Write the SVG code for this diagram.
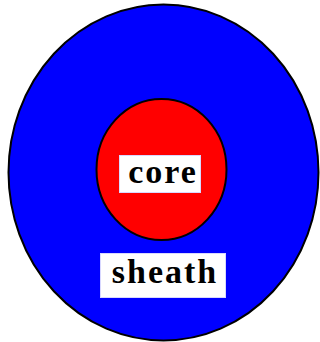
<svg xmlns="http://www.w3.org/2000/svg" width="320" height="342" viewBox="0 0 320 342">
<style>
.lbl{font-family:"Liberation Serif","Times New Roman",serif;font-weight:bold;font-size:34px;fill:#000;text-anchor:middle;letter-spacing:2px}
.box{fill:#fff;stroke:#d8d8ff;stroke-width:1}
</style>
<rect width="320" height="342" fill="#fff"/>
<g id="sheath">
<ellipse cx="163.5" cy="172.5" rx="155" ry="168" fill="#0000ff" stroke="#000" stroke-width="2"/>
<rect class="box" x="100.5" y="253.5" width="125" height="44"/>
<text class="lbl" x="165" y="283">sheath</text>
</g>
<g id="core">
<ellipse cx="161.5" cy="169.5" rx="65" ry="70.5" fill="#ff0000" stroke="#000" stroke-width="2"/>
<rect class="box" x="119.5" y="155.5" width="81" height="37"/>
<text class="lbl" x="163" y="183">core</text>
</g>
</svg>
